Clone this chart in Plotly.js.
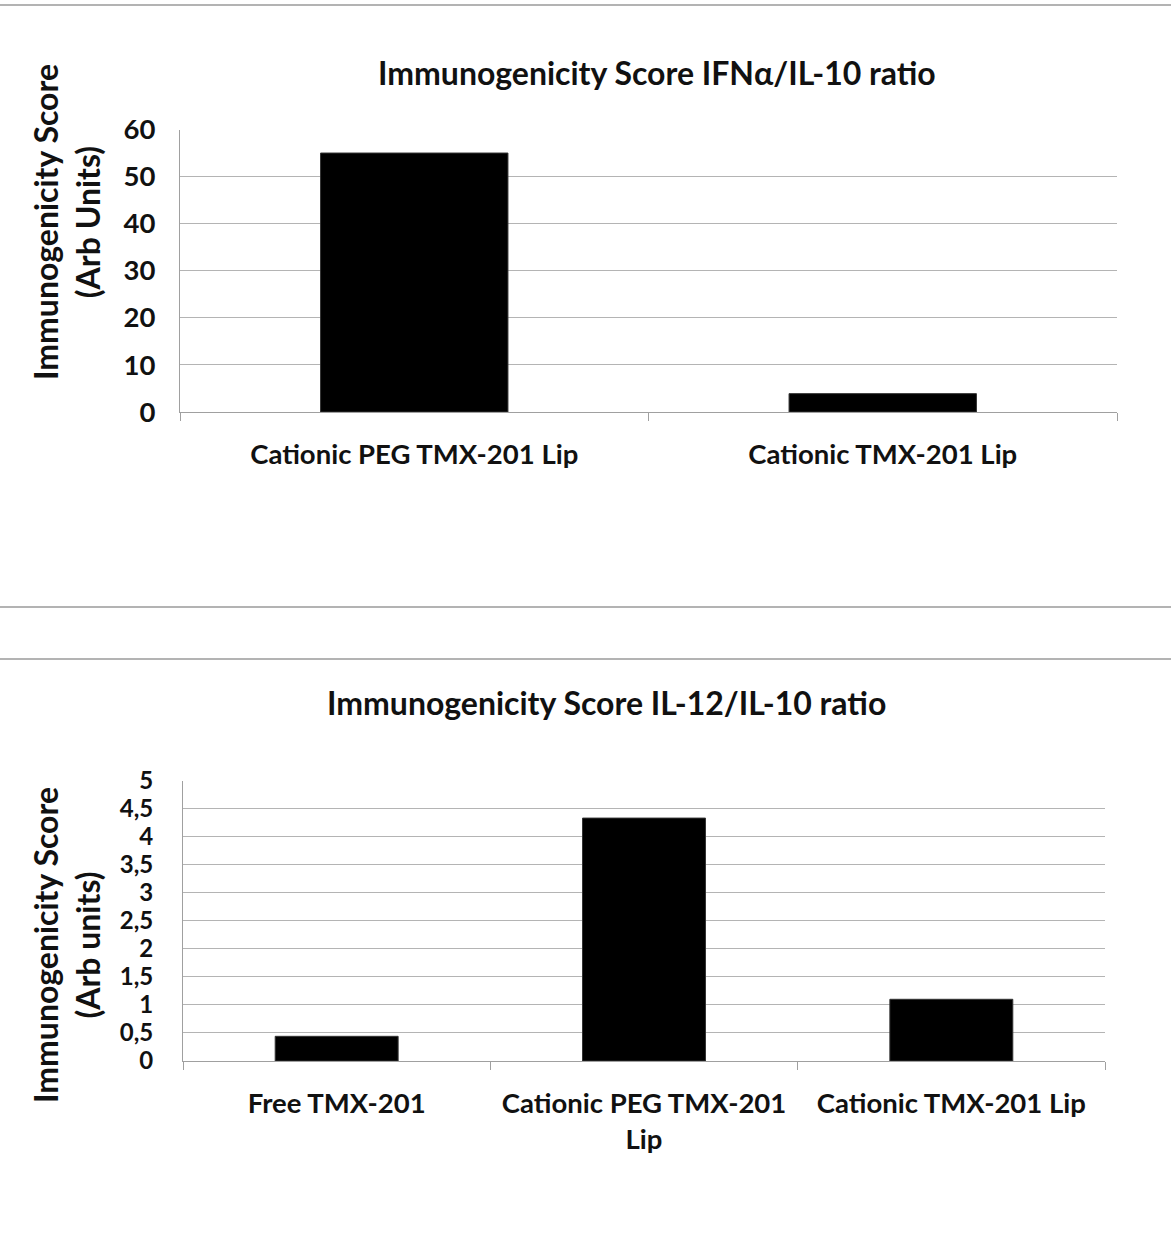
<!DOCTYPE html>
<html>
<head>
<meta charset="utf-8">
<script src="https://cdn.plot.ly/plotly-3.0.1.min.js"></script>
<style>html,body{margin:0;padding:0;background:#fff;}#chart{width:1171px;height:1246px;}</style>
</head>
<body>
<div id="chart"></div>
<script>
// Top chart: IFNα/IL-10 ratio
const topCategories = ["Cationic PEG TMX-201 Lip", "Cationic TMX-201 Lip"];
const topValues = [55, 3.9];
const topTicks = [0, 10, 20, 30, 40, 50, 60];

// Bottom chart: IL-12/IL-10 ratio
const bottomCategories = ["Free TMX-201", "Cationic PEG TMX-201<br>Lip", "Cationic TMX-201 Lip"];
const bottomValues = [0.44, 4.33, 1.1];
const bottomTicks = [0, 0.5, 1, 1.5, 2, 2.5, 3, 3.5, 4, 4.5, 5];

const W = 1171, H = 1246;
const px = x => x / W;
const py = y => 1 - y / H;
const FONT = "Lato, 'Open Sans', sans-serif";
const tickFont = {family: FONT, size: 27.5, color: "#111", weight: "bold"};
const smallTickFont = {family: FONT, size: 24, color: "#111", weight: "bold"};
const gridColor = "#b4b4b4";

const data = [
  {type: "bar", x: topCategories, y: topValues, xaxis: "x", yaxis: "y",
   marker: {color: "#000", line: {color: "#333", width: 1}}, hoverinfo: "x+y"},
  {type: "bar", x: bottomCategories, y: bottomValues, xaxis: "x2", yaxis: "y2",
   marker: {color: "#000", line: {color: "#333", width: 1}}, hoverinfo: "x+y"}
];

const sepLine = y => ({type: "line", xref: "paper", yref: "paper", x0: 0, x1: 1, y0: py(y), y1: py(y),
  line: {color: "#9a9a9a", width: 1.5}});

const layout = {
  width: W, height: H,
  margin: {l: 0, r: 0, t: 0, b: 0},
  paper_bgcolor: "#fff", plot_bgcolor: "#fff",
  showlegend: false,
  bargap: 0.6,
  separators: ",.",
  font: {family: FONT, color: "#111"},
  xaxis: {
    domain: [px(180), px(1117)], anchor: "y",
    showline: true, linecolor: "#a0a0a0", linewidth: 1,
    ticks: "outside", tickson: "boundaries", ticklen: 8, tickcolor: "#a0a0a0",
    tickfont: tickFont, ticklabelstandoff: 18, showgrid: false, zeroline: false
  },
  yaxis: {
    domain: [py(412), py(129.5)], anchor: "x",
    range: [0, 60], tickvals: topTicks, ticktext: topTicks.map(String),
    showline: true, linecolor: "#a0a0a0", linewidth: 1,
    showgrid: true, gridcolor: gridColor, gridwidth: 1, zeroline: false,
    ticks: "", tickfont: tickFont, ticklabelstandoff: 18
  },
  xaxis2: {
    domain: [px(183), px(1105)], anchor: "y2",
    showline: true, linecolor: "#a0a0a0", linewidth: 1,
    ticks: "outside", tickson: "boundaries", ticklen: 8, tickcolor: "#a0a0a0",
    tickfont: tickFont, ticklabelstandoff: 18, showgrid: false, zeroline: false
  },
  yaxis2: {
    domain: [py(1061), py(780.5)], anchor: "x2",
    range: [0, 5], tickvals: bottomTicks,
    showline: true, linecolor: "#a0a0a0", linewidth: 1,
    showgrid: true, gridcolor: gridColor, gridwidth: 1, zeroline: false,
    ticks: "", tickfont: smallTickFont, ticklabelstandoff: 24
  },
  shapes: [sepLine(5), sepLine(607), sepLine(659)],
  annotations: [
    {text: "Immunogenicity Score IFNα/IL-10 ratio", xref: "paper", yref: "paper",
     x: px(657), y: py(72), xanchor: "center", yanchor: "middle", showarrow: false,
     font: {family: FONT, size: 32, color: "#111", weight: "bold"}},
    {text: "Immunogenicity Score IL-12/IL-10 ratio", xref: "paper", yref: "paper",
     x: px(606), y: py(702), xanchor: "center", yanchor: "middle", showarrow: false,
     font: {family: FONT, size: 32, color: "#111", weight: "bold"}},
    {text: "Immunogenicity Score<br>(Arb Units)", xref: "paper", yref: "paper",
     x: px(66), y: py(222), xanchor: "center", yanchor: "middle", showarrow: false, textangle: -90,
     font: {family: FONT, size: 32, color: "#111", weight: "bold"}},
    {text: "Immunogenicity Score<br>(Arb units)", xref: "paper", yref: "paper",
     x: px(66), y: py(945), xanchor: "center", yanchor: "middle", showarrow: false, textangle: -90,
     font: {family: FONT, size: 32, color: "#111", weight: "bold"}}
  ]
};

Plotly.newPlot("chart", data, layout, {displayModeBar: false, staticPlot: true});
</script>
</body>
</html>
